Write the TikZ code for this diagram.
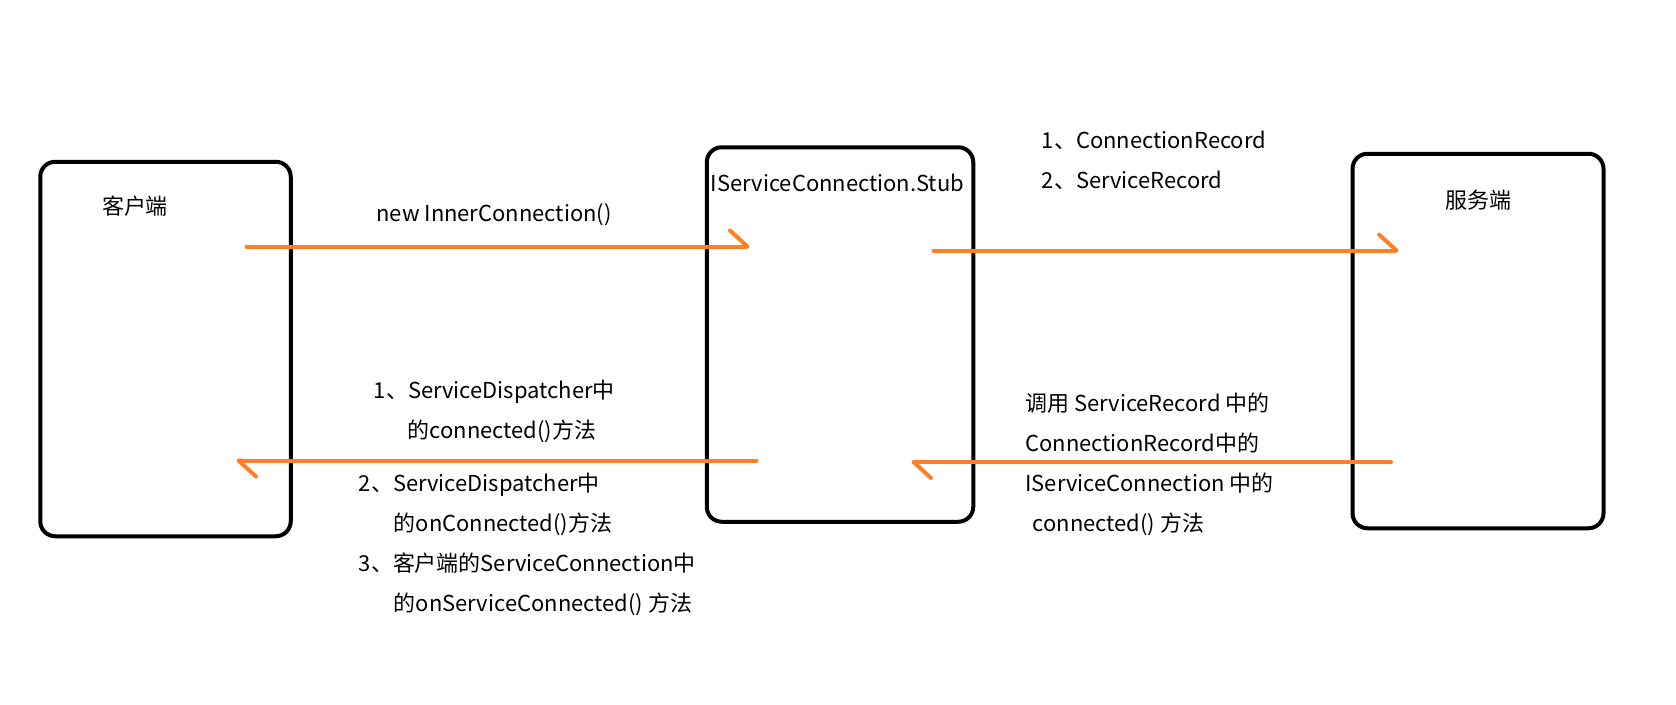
\documentclass[tikz,border=0pt]{standalone}
\usepackage{fontspec}
\setmainfont{Noto Sans CJK SC}
\usepackage{xcolor}
\definecolor{paintorange}{RGB}{255,127,39}
\usetikzlibrary{arrows.meta}

\begin{document}
\begin{tikzpicture}[endpoint/.style={draw, line width=0.08cm, rounded corners=0.3cm, minimum height=7.49cm, inner sep=0pt},
  txt/.style={font=\fontsize{12.5}{15}\selectfont, inner sep=0pt},
  paths/.style={paintorange, line width=0.08cm, line cap=round, -{Straight Barb[left, length=0.35cm, width=0.64cm, round]}}]

 \useasboundingbox (0,0) rectangle (33.52,-14.08);

 \node[endpoint, minimum width=5.01cm] (client) at (3.31,-6.98) {};
 \node[endpoint, minimum width=5.33cm] (stub) at (16.80,-6.69) {};
 \node[endpoint, minimum width=5.02cm] (server) at (29.56,-6.82) {};

 \node[txt, anchor=base] (client_name) at (2.70,-4.28) {客户端};
 \node[txt, anchor=base west] (stub_name) at (14.21,-3.82) {IServiceConnection.Stub};
 \node[txt, anchor=base] (server_name) at (29.56,-4.16) {服务端};

 \coordinate (bind_start) at (4.93,-4.93);
 \coordinate (bind_end) at (14.99,-4.93);
 \coordinate (record_start) at (18.67,-5.01);
 \coordinate (record_end) at (27.97,-5.01);
 \coordinate (back_start) at (15.13,-9.21);
 \coordinate (back_end) at (4.73,-9.21);
 \coordinate (call_start) at (27.82,-9.24);
 \coordinate (call_end) at (18.23,-9.24);

 \draw [paths] (bind_start) -- (bind_end);
 \draw [paths] (record_start) -- (record_end);
 \draw [paths] (back_start) -- (back_end);
 \draw [paths] (call_start) -- (call_end);

 % client -> stub
 \node[txt, anchor=base west] (bind_text) at (7.52,-4.42) {new InnerConnection()};

 % stub -> server
 \node[txt, anchor=base west] (record_1) at (20.83,-2.96) {1、ConnectionRecord};
 \node[txt, anchor=base west] (record_2) at (20.83,-3.76) {2、ServiceRecord};

 % stub -> client
 \node[txt, anchor=base west] (back_1a) at (7.47,-7.96) {1、ServiceDispatcher中};
 \node[txt, anchor=base west] (back_1b) at (8.15,-8.76) {的connected()方法};
 \node[txt, anchor=base west] (back_2a) at (7.17,-9.82) {2、ServiceDispatcher中};
 \node[txt, anchor=base west] (back_2b) at (7.87,-10.62) {的onConnected()方法};
 \node[txt, anchor=base west] (back_3a) at (7.17,-11.42) {3、客户端的ServiceConnection中};
 \node[txt, anchor=base west] (back_3b) at (7.87,-12.22) {的onServiceConnected() 方法};

 % server -> stub
 \node[txt, anchor=base west] (call_1) at (20.50,-8.23) {调用 ServiceRecord 中的};
 \node[txt, anchor=base west] (call_2) at (20.50,-9.03) {ConnectionRecord中的};
 \node[txt, anchor=base west] (call_3) at (20.50,-9.83) {IServiceConnection 中的};
 \node[txt, anchor=base west] (call_4) at (20.65,-10.63) {connected() 方法};

\end{tikzpicture}
\end{document}
